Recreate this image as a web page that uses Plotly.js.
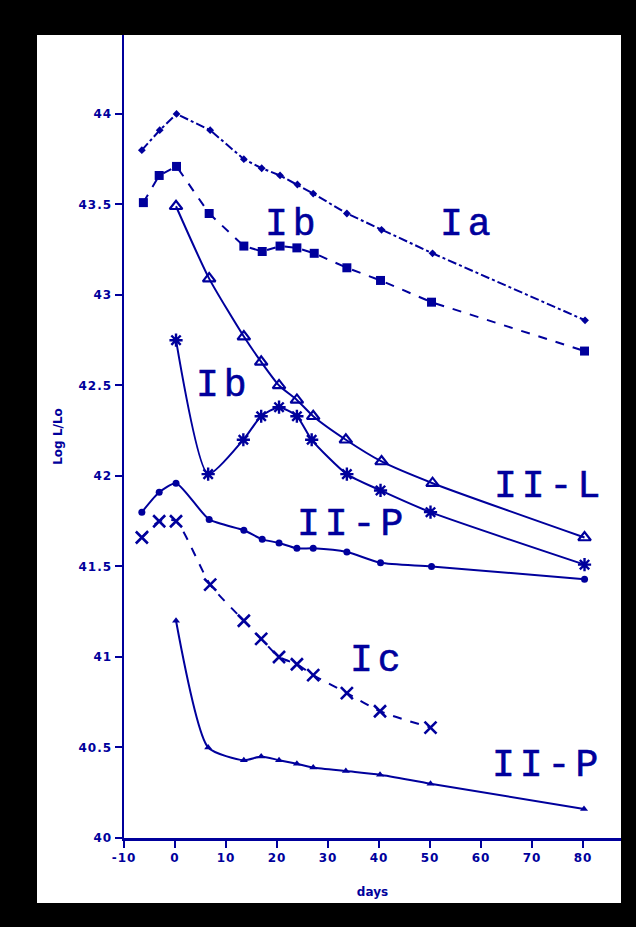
<!DOCTYPE html>
<html>
<head>
<meta charset="utf-8">
<script src="https://cdn.plot.ly/plotly-3.0.1.min.js"></script>
<style>
html,body{margin:0;padding:0;background:#000;width:636px;height:927px;overflow:hidden;}
#chart{position:absolute;left:37px;top:35px;width:584px;height:868px;background:#fff;}
#chart .annotation-text{letter-spacing:5px;stroke:#00009c;stroke-width:0.6px;}
#chart .ytick text,#chart .xtick text{letter-spacing:1px;}
</style>
</head>
<body>
<div id="chart"></div>
<script>
// ---- data ----
var iaDays  = [-6.5, -3, 0.3, 6.9, 13.5, 17, 20.6, 24, 27.1, 33.7, 40.5, 50.5, 80.4];
var iaLum   = [43.80, 43.91, 44.00, 43.91, 43.75, 43.70, 43.66, 43.61, 43.56, 43.45, 43.36, 43.23, 42.86];

var ibDays  = [-6.2, -3.1, 0.3, 6.7, 13.5, 17.1, 20.6, 23.9, 27.3, 33.7, 40.3, 50.3, 80.3];
var ibLum   = [43.51, 43.66, 43.71, 43.45, 43.27, 43.24, 43.27, 43.26, 43.23, 43.15, 43.08, 42.96, 42.69];

var iiLDays = [0.2, 6.7, 13.5, 16.9, 20.4, 23.9, 27.1, 33.5, 40.5, 50.5, 80.3];
var iiLLum  = [43.49, 43.09, 42.77, 42.63, 42.50, 42.42, 42.33, 42.20, 42.08, 41.96, 41.66];

var ib2Days = [0.2, 6.5, 13.4, 16.9, 20.4, 23.9, 26.8, 33.7, 40.3, 50.1, 80.3];
var ib2Lum  = [42.75, 42.01, 42.20, 42.33, 42.38, 42.33, 42.20, 42.01, 41.92, 41.80, 41.51];

var iiPDays = [-6.5, -3.1, 0.2, 6.7, 13.5, 17.1, 20.4, 23.9, 27.1, 33.7, 40.3, 50.3, 80.3];
var iiPLum  = [41.80, 41.91, 41.96, 41.76, 41.70, 41.65, 41.63, 41.60, 41.60, 41.58, 41.52, 41.50, 41.43];

var icDays  = [-6.5, -3.1, 0.2, 6.9, 13.5, 16.9, 20.4, 23.9, 27.1, 33.7, 40.2, 50.1];
var icLum   = [41.66, 41.75, 41.75, 41.40, 41.20, 41.10, 41.00, 40.96, 40.90, 40.80, 40.70, 40.61];

var iiP2Days = [0.2, 6.5, 13.5, 16.9, 20.4, 23.9, 27.1, 33.5, 40.2, 50.1, 80.2];
var iiP2Lum  = [41.20, 40.50, 40.43, 40.45, 40.43, 40.41, 40.39, 40.37, 40.35, 40.30, 40.16];

var labelText = ['Ib', 'Ia', 'Ib', 'II-L', 'II-P', 'Ic', 'II-P'];
var labelX    = [23.2, 57.4, 9.7, 73.4, 34.8, 39.9, 73.0];
var labelY    = [43.39, 43.39, 42.50, 41.94, 41.73, 40.98, 40.40];

var xTickVals = [-10, 0, 10, 20, 30, 40, 50, 60, 70, 80];
var xTickText = ['-10', '0', '10', '20', '30', '40', '50', '60', '70', '80'];
var yTickVals = [40, 40.5, 41, 41.5, 42, 42.5, 43, 43.5, 44];
var yTickText = ['40', '40.5', '41', '41.5', '42', '42.5', '43', '43.5', '44'];

// ---- styling ----
var C = '#00009c';
function tr(x, y, dash, shape, sym, size, lw) {
  return {
    x: x, y: y, type: 'scatter', mode: 'lines+markers', cliponaxis: false,
    line: {color: C, width: 2, dash: dash, shape: shape, smoothing: 0.6},
    marker: {color: C, symbol: sym, size: size, line: {color: C, width: lw}},
    hoverinfo: 'skip'
  };
}
var data = [
  tr(iaDays, iaLum, 'dashdot', 'linear', 'diamond', 6, 0),
  tr(ibDays, ibLum, 'dash', 'linear', 'square', 9, 0),
  tr(iiLDays, iiLLum, 'solid', 'spline', 'triangle-up-open', 11, 2.2),
  tr(ib2Days, ib2Lum, 'solid', 'spline', 'asterisk-open', 11, 2.4),
  tr(iiPDays, iiPLum, 'solid', 'spline', 'circle', 7, 0),
  tr(icDays, icLum, 'dash', 'spline', 'x-thin-open', 12, 2.6),
  tr(iiP2Days, iiP2Lum, 'solid', 'spline', 'triangle-up', 7, 0)
];

var annotations = labelText.map(function (t, i) {
  return {x: labelX[i], y: labelY[i], xref: 'x', yref: 'y', text: t, showarrow: false,
    font: {family: 'Liberation Mono, Courier New, monospace', size: 38, color: C},
    xanchor: 'center', yanchor: 'middle'};
});

var tickFont = {family: 'DejaVu Sans, Arial, sans-serif', size: 12, color: C, weight: 'bold'};
var xr = [-10, 87.45], yr = [40, 44.436];
var layout = {
  width: 584, height: 868,
  margin: {l: 87, r: 0, t: 0, b: 65, pad: 0},
  paper_bgcolor: '#ffffff', plot_bgcolor: '#ffffff',
  showlegend: false,
  xaxis: {range: xr, tickvals: xTickVals, ticktext: xTickText, ticks: 'outside', ticklen: 7, tickwidth: 2,
    tickcolor: C, showline: true, linecolor: C, linewidth: 2.5, showgrid: false, zeroline: false,
    tickfont: tickFont, title: {text: 'days', font: {family: 'DejaVu Sans, Arial, sans-serif', size: 12, color: C, weight: 'bold'}, standoff: 24}},
  yaxis: {range: yr, tickvals: yTickVals, ticktext: yTickText, ticks: 'outside', ticklen: 7, tickwidth: 2,
    tickcolor: C, showline: true, linecolor: C, linewidth: 2.5, showgrid: false, zeroline: false,
    tickfont: tickFont, title: {text: 'Log L/Lo', font: {family: 'DejaVu Sans, Arial, sans-serif', size: 12, color: C, weight: 'bold'}, standoff: 18}},
  xaxis2: {range: xr, overlaying: 'x', tickvals: xTickVals, ticks: 'inside', ticklen: 6, tickwidth: 2, tickcolor: C,
    showticklabels: false, showgrid: false, zeroline: false, showline: false, anchor: 'y'},
  yaxis2: {range: yr, overlaying: 'y', tickvals: yTickVals, ticks: 'inside', ticklen: 6, tickwidth: 2, tickcolor: C,
    showticklabels: false, showgrid: false, zeroline: false, showline: false, anchor: 'x'},
  annotations: annotations
};
Plotly.newPlot('chart', data, layout, {staticPlot: true, displayModeBar: false});
</script>
</body>
</html>
